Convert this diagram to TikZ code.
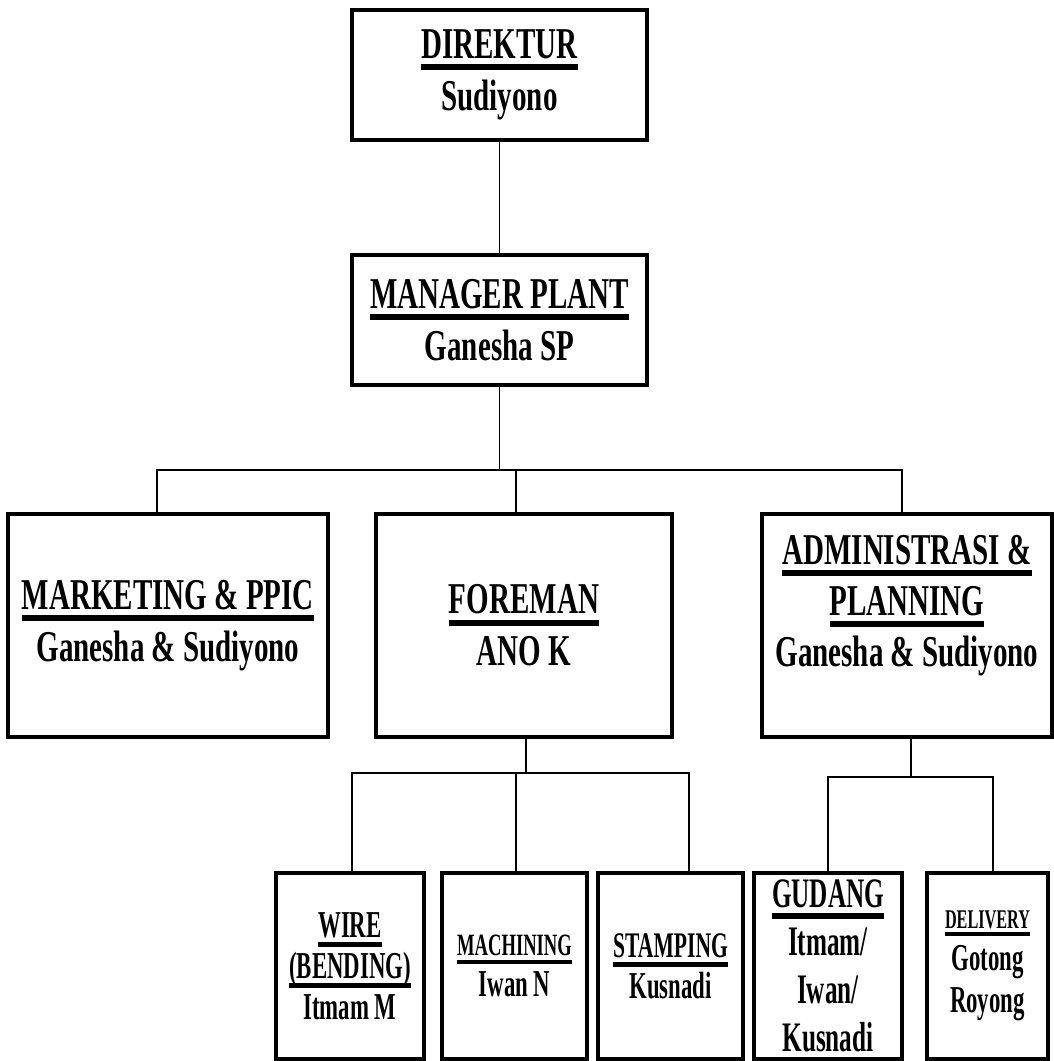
\documentclass[tikz,border=0pt]{standalone}
\usepackage{fontspec}
\setmainfont{Liberation Serif}[FakeStretch=0.66]
\newfontfamily\lowfont{Liberation Serif}[FakeStretch=0.6]

% underlined title line
\newcommand\ulin[1]{\setbox0\hbox{#1}\leavevmode\rlap{\copy0}\rule[-0.58ex]{\wd0}{0.3ex}}

\begin{document}
\begin{tikzpicture}[x=1pt,y=-1pt,
    box/.style={draw,line width=4pt,align=center,inner sep=0pt},
    topbox/.style={box,font=\bfseries\fontsize{44}{52}\selectfont},
    midbox/.style={topbox,minimum height=223pt},
    lowbox/.style={box,minimum height=186pt,font=\lowfont\bfseries\fontsize{38}{41}\selectfont},
    link/.style={line width=1.5pt}]
  \useasboundingbox (0,0) rectangle (1054,1061);

  % top levels
  \node[topbox,minimum width=295pt,minimum height=130pt] (direktur) at (499.5,75) {\ulin{DIREKTUR}\\Sudiyono};
  \node[topbox,minimum width=295pt,minimum height=130pt] (manager) at (499.5,320) {\ulin{MANAGER PLANT}\\Ganesha SP};

  % middle level
  \node[midbox,minimum width=320pt] (marketing) at (168,625.5) {\ulin{MARKETING \& PPIC}\\Ganesha \& Sudiyono};
  \node[midbox,minimum width=296pt] (foreman) at (524,625.5) {\ulin{FOREMAN}\\ANO K};
  \node[midbox,minimum width=290pt,font=\bfseries\fontsize{44}{51}\selectfont] (admin) at (907,625.5)
    {\ulin{ADMINISTRASI \&}\\\ulin{PLANNING}\\Ganesha \& Sudiyono\rule[-50pt]{0pt}{50pt}};

  % bottom level
  \node[lowbox,minimum width=148pt] (wire) at (350,966) {\ulin{WIRE}\\\ulin{(BENDING)}\\Itmam M};
  \node[lowbox,minimum width=145pt] (machining) at (514.5,966) {{\fontsize{31}{41}\selectfont\ulin{MACHINING}}\\Iwan N};
  \node[lowbox,minimum width=145pt] (stamping) at (670.5,966) {{\fontsize{36}{41}\selectfont\ulin{STAMPING}}\\Kusnadi};
  \node[lowbox,minimum width=148pt,font=\lowfont\bfseries\fontsize{42}{48}\selectfont] (gudang) at (828,966)
    {\ulin{GUDANG}\\Itmam/\\Iwan/\\Kusnadi};
  \node[lowbox,minimum width=121pt,font=\lowfont\bfseries\fontsize{38}{42}\selectfont] (delivery) at (987.5,966)
    {{\fontsize{27}{42}\selectfont\ulin{DELIVERY}}\\Gotong\\Royong};

  % connectors
  \coordinate (busL) at (157,470);
  \coordinate (busF) at (516,470);
  \coordinate (busR) at (902,470);
  \coordinate (forH) at (526,773);
  \coordinate (forL) at (352,773);
  \coordinate (forM) at (516,773);
  \coordinate (forR) at (689,773);
  \coordinate (admH) at (911,777);
  \coordinate (admL) at (828,777);
  \coordinate (admR) at (993,777);

  \draw[link] (direktur.south) -- (manager.north);
  \draw[link] (manager.south) -- (manager.south |- busL);
  \draw[link] (busL |- marketing.north) -- (busL) -- (busR) -- (busR |- admin.north);
  \draw[link] (busF) -- (busF |- foreman.north);

  \draw[link] (forH |- foreman.south) -- (forH);
  \draw[link] (forL |- wire.north) -- (forL) -- (forR) -- (forR |- stamping.north);
  \draw[link] (forM) -- (forM |- machining.north);

  \draw[link] (admH |- admin.south) -- (admH);
  \draw[link] (admL |- gudang.north) -- (admL) -- (admR) -- (admR |- delivery.north);
\end{tikzpicture}
\end{document}
